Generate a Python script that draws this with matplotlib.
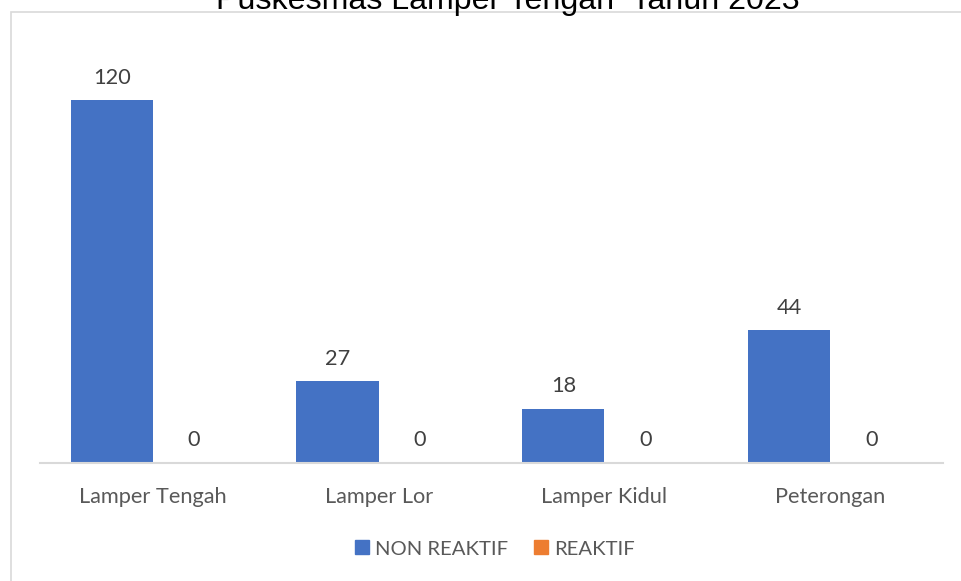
import matplotlib
matplotlib.use("Agg")
import matplotlib.pyplot as plt
from matplotlib.patches import Patch, Rectangle
import numpy as np

# Data
categories = ["Lamper Tengah", "Lamper Lor", "Lamper Kidul", "Peterongan"]
non_reaktif = [120, 27, 18, 44]
reaktif = [0, 0, 0, 0]
series_names = ["NON REAKTIF", "REAKTIF"]
title = "Puskesmas Lamper Tengah  Tahun 2023"

blue = "#4472C4"
orange = "#ED7D31"
text_gray = "#595959"
label_gray = "#404040"
line_gray = "#D9D9D9"
label_font = "Lato"
fs = 15.7
legend_fs = 14.6

fig = plt.figure(figsize=(9.61, 5.81), dpi=100)
ax = fig.add_axes([40 / 961, 1 - 463 / 581, 903 / 961, 423 / 581])

x = np.arange(len(categories))
w = 0.364
b1 = ax.bar(x - w / 2, non_reaktif, w, color=blue, label=series_names[0])
b2 = ax.bar(x + w / 2, reaktif, w, color=orange, label=series_names[1])

for bars in (b1, b2):
    ax.bar_label(bars, padding=9, fontsize=fs, color=label_gray, family=label_font)

ax.set_xlim(-0.5, len(categories) - 0.5)
ax.set_ylim(0, 140)
ax.set_yticks([])
ax.set_xticks(x)
ax.set_xticklabels(categories, fontsize=fs, color=text_gray, family=label_font)
ax.tick_params(axis="x", length=0, pad=17)
for side in ["top", "right", "left"]:
    ax.spines[side].set_visible(False)
ax.spines["bottom"].set_color(line_gray)
ax.spines["bottom"].set_linewidth(1.5)

# Chart border (cut off at right and bottom like the source)
fig.patches.append(Rectangle((11 / 961, -0.05), 1.1, 1 - 11.5 / 581 + 0.05,
                             transform=fig.transFigure, fill=False,
                             edgecolor=line_gray, linewidth=1.2))

fig.text(508 / 961, 1 - 9 / 581, title, ha="center", va="baseline",
         fontsize=23.1, family="Liberation Sans", color="black")

handles = [Patch(color=blue), Patch(color=orange)]
fig.legend(handles, series_names, loc="center", ncol=2,
           bbox_to_anchor=(495 / 961, 1 - 549 / 581), frameon=False,
           prop={"family": label_font, "size": legend_fs}, labelcolor=text_gray,
           handlelength=0.68, handleheight=0.68, handletextpad=0.3,
           columnspacing=1.3)

fig.savefig("out.png", dpi=100)
